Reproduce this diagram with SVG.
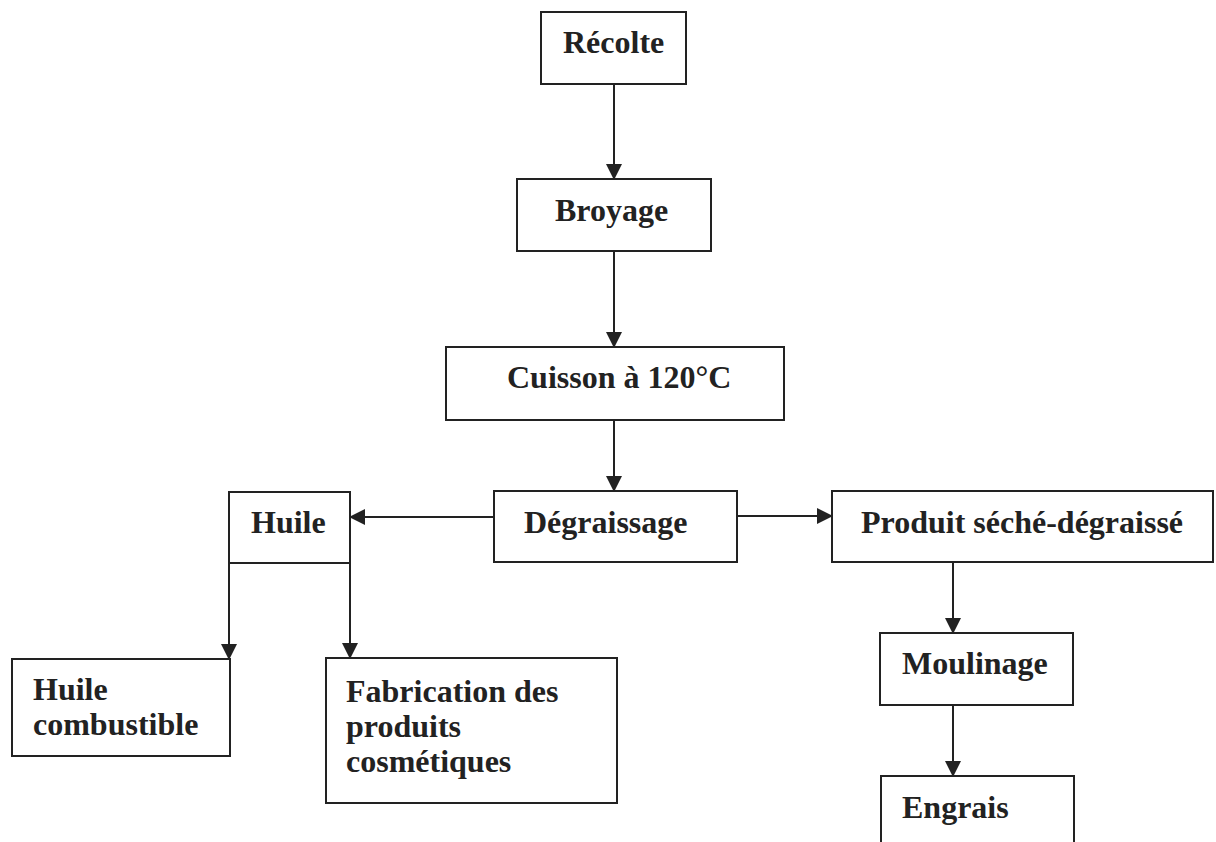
<svg xmlns="http://www.w3.org/2000/svg" width="1216" height="842" viewBox="0 0 1216 842">
  <style>
    .box { fill: #ffffff; stroke: #222222; stroke-width: 2; }
    .lbl { font-family: "Liberation Serif", "Times New Roman", serif; font-weight: bold; font-size: 32px; fill: #222222; }
    .edge { fill: none; stroke: #222222; stroke-width: 2; }
  </style>
  <defs>
    <marker id="arrow" markerUnits="userSpaceOnUse" markerWidth="16" markerHeight="16" viewBox="0 0 16 16" refX="15" refY="8" orient="auto">
      <path d="M0,0 L16,8 L0,16 Z" fill="#222222"/>
    </marker>
  </defs>
  <rect width="1216" height="842" fill="#ffffff"/>

  <g id="connectors">
    <line class="edge" x1="614" y1="84" x2="614" y2="179" marker-end="url(#arrow)"/>
    <line class="edge" x1="614" y1="251" x2="614" y2="347" marker-end="url(#arrow)"/>
    <line class="edge" x1="614" y1="420" x2="614" y2="491" marker-end="url(#arrow)"/>
    <line class="edge" x1="494" y1="517" x2="350" y2="517" marker-end="url(#arrow)"/>
    <line class="edge" x1="737" y1="516" x2="832" y2="516" marker-end="url(#arrow)"/>
    <line class="edge" x1="229" y1="563" x2="229" y2="659" marker-end="url(#arrow)"/>
    <line class="edge" x1="350" y1="563" x2="350" y2="658" marker-end="url(#arrow)"/>
    <line class="edge" x1="953" y1="562" x2="953" y2="633" marker-end="url(#arrow)"/>
    <line class="edge" x1="953" y1="705" x2="953" y2="776" marker-end="url(#arrow)"/>
  </g>

  <g id="recolte">
    <rect class="box" x="541" y="12" width="145" height="72"/>
    <text class="lbl" x="563" y="53">Récolte</text>
  </g>
  <g id="broyage">
    <rect class="box" x="517" y="179" width="194" height="72"/>
    <text class="lbl" x="555" y="221">Broyage</text>
  </g>
  <g id="cuisson">
    <rect class="box" x="446" y="347" width="338" height="73"/>
    <text class="lbl" x="507" y="388">Cuisson à 120°C</text>
  </g>
  <g id="degraissage">
    <rect class="box" x="494" y="491" width="243" height="71"/>
    <text class="lbl" x="524" y="533">Dégraissage</text>
  </g>
  <g id="huile">
    <rect class="box" x="229" y="492" width="121" height="71"/>
    <text class="lbl" x="251" y="533">Huile</text>
  </g>
  <g id="produit-seche-degraisse">
    <rect class="box" x="832" y="491" width="381" height="71"/>
    <text class="lbl" x="861" y="533">Produit séché-dégraissé</text>
  </g>
  <g id="huile-combustible">
    <rect class="box" x="12" y="659" width="218" height="97"/>
    <text class="lbl" x="33" y="700">Huile</text>
    <text class="lbl" x="33" y="735">combustible</text>
  </g>
  <g id="fabrication">
    <rect class="box" x="326" y="658" width="291" height="145"/>
    <text class="lbl" x="346" y="702">Fabrication des</text>
    <text class="lbl" x="346" y="737">produits</text>
    <text class="lbl" x="346" y="772">cosmétiques</text>
  </g>
  <g id="moulinage">
    <rect class="box" x="880" y="633" width="193" height="72"/>
    <text class="lbl" x="902" y="674">Moulinage</text>
  </g>
  <g id="engrais">
    <rect class="box" x="881" y="776" width="193" height="80"/>
    <text class="lbl" x="902" y="818">Engrais</text>
  </g>
</svg>
